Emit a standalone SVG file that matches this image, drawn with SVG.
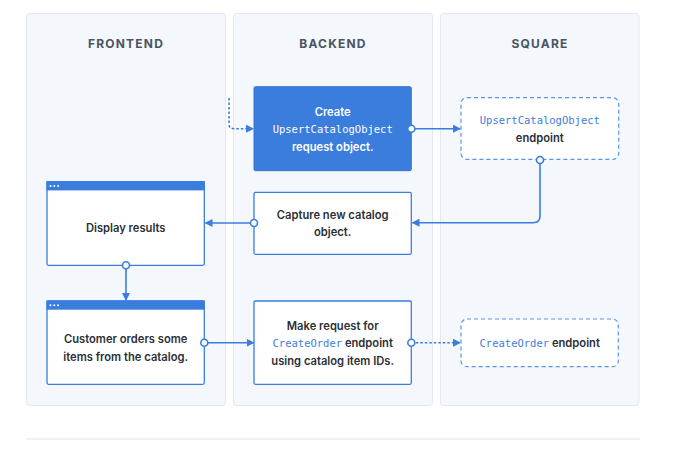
<svg xmlns="http://www.w3.org/2000/svg" width="700" height="457" viewBox="0 0 700 457">
<defs>
<marker id="ah" viewBox="0 0 8 8" refX="7" refY="4" markerWidth="8" markerHeight="8" markerUnits="userSpaceOnUse" orient="auto">
<path d="M0,0 L8,4 L0,8 Z" fill="#3b7ddd"/>
</marker>
</defs>
<style>
.col{fill:#f4f7fc;stroke:#e2e8f2;stroke-width:1}
.hdr{font-family:"Inter","Liberation Sans",sans-serif;font-size:12px;font-weight:700;fill:#4a5462;letter-spacing:1.2px;text-anchor:middle}
.box{fill:#ffffff;stroke:#3b7ddd;stroke-width:1.3}
.dbox{fill:#ffffff;stroke:#5b95e8;stroke-width:1.2;stroke-dasharray:4 3}
.t{font-family:"Inter","Liberation Sans",sans-serif;font-size:11.2px;font-weight:600;fill:#2b2f36;text-anchor:middle}
.tw{fill:#ffffff}
.m{font-family:"DejaVu Sans Mono","Liberation Mono",monospace;font-size:10.5px;font-weight:400;fill:#3b7ddd}
.mw{fill:#ffffff}
.ln{fill:none;stroke:#3b7ddd;stroke-width:1.6}
.dl{fill:none;stroke:#3b7ddd;stroke-width:1.6;stroke-dasharray:2.5 2}
.dot{fill:#ffffff;stroke:#3b7ddd;stroke-width:1.6}
.bar{fill:#3b7ddd}
.wd{fill:#ffffff}
</style>
<g id="columns">
<rect class="col" x="26.5" y="13.5" width="199" height="392" rx="3"/>
<rect class="col" x="233.5" y="13.5" width="199" height="392" rx="3"/>
<rect class="col" x="440.5" y="13.5" width="198.5" height="392" rx="3"/>
<text class="hdr" x="126" y="48">FRONTEND</text>
<text class="hdr" x="333" y="48">BACKEND</text>
<text class="hdr" x="540" y="48">SQUARE</text>
<line x1="26" y1="439" x2="640" y2="439" stroke="#e3e5e8" stroke-width="1.2"/>
</g>
<g id="connectors">
<path class="dl" d="M229,98 V124 Q229,128.7 234,128.7 H253" marker-end="url(#ah)"/>
<path class="ln" d="M411.3,128.7 H460" marker-end="url(#ah)"/>
<path class="ln" d="M540,160 V216 Q540,222.7 533,222.7 H412.5" marker-end="url(#ah)"/>
<path class="ln" d="M254,223 H205.5" marker-end="url(#ah)"/>
<path class="ln" d="M126,265.3 V300" marker-end="url(#ah)"/>
<path class="ln" d="M204.3,342.7 H253.5" marker-end="url(#ah)"/>
<path class="dl" d="M411.3,342.7 H460" marker-end="url(#ah)"/>
</g>
<g id="create">
<rect x="254" y="86.7" width="157.3" height="84" rx="1.5" fill="#3b7ddd" stroke="#3576d6" stroke-width="1"/>
<text class="t tw" x="332.7" y="115.5">Create</text>
<text class="m mw" x="332.7" y="133" text-anchor="middle">UpsertCatalogObject</text>
<text class="t tw" x="332.7" y="150.5">request object.</text>
<circle class="dot" cx="411.3" cy="128.7" r="3.5"/>
</g>
<g id="upsert-endpoint">
<rect class="dbox" x="461" y="97.7" width="157.7" height="61.6" rx="6"/>
<text class="m" x="539.8" y="124.3" text-anchor="middle">UpsertCatalogObject</text>
<text class="t" x="539.8" y="141.5" font-weight="500">endpoint</text>
<circle class="dot" cx="540" cy="160" r="3.5"/>
</g>
<g id="capture">
<rect class="box" x="254" y="192.3" width="157.3" height="62" rx="1.5"/>
<text class="t" x="332.7" y="219">Capture new catalog</text>
<text class="t" x="332.7" y="236.3">object.</text>
<circle class="dot" cx="254" cy="223" r="3.5"/>
</g>
<g id="display">
<rect class="box" x="47" y="181.7" width="157.3" height="83.6" rx="1.5"/>
<rect class="bar" x="46.4" y="181.1" width="158.5" height="9.3"/>
<circle class="wd" cx="50.5" cy="186" r="1"/>
<circle class="wd" cx="54.3" cy="186" r="1"/>
<circle class="wd" cx="58.1" cy="186" r="1"/>
<text class="t" x="125.7" y="232.3">Display results</text>
<circle class="dot" cx="126" cy="265.3" r="3.5"/>
</g>
<g id="customer">
<rect class="box" x="47" y="301" width="157.3" height="83.3" rx="1.5"/>
<rect class="bar" x="46.4" y="300.4" width="158.5" height="9.3"/>
<circle class="wd" cx="50.5" cy="305.3" r="1"/>
<circle class="wd" cx="54.3" cy="305.3" r="1"/>
<circle class="wd" cx="58.1" cy="305.3" r="1"/>
<text class="t" x="125.7" y="343">Customer orders some</text>
<text class="t" x="125.7" y="360.7">items from the catalog.</text>
<circle class="dot" cx="204.3" cy="342.7" r="3.5"/>
</g>
<g id="make-request">
<rect class="box" x="254" y="301" width="157.3" height="83.3" rx="1.5"/>
<text class="t" x="332.7" y="329.7">Make request for</text>
<text class="t" x="332.7" y="347.3"><tspan class="m" font-weight="400">CreateOrder</tspan> endpoint</text>
<text class="t" x="332.7" y="365">using catalog item IDs.</text>
<circle class="dot" cx="411.3" cy="342.7" r="3.5"/>
</g>
<g id="createorder-endpoint">
<rect class="dbox" x="461" y="319" width="157.3" height="47.7" rx="6"/>
<text class="t" x="539.7" y="347.3" font-weight="500"><tspan class="m">CreateOrder</tspan> endpoint</text>
</g>
</svg>
